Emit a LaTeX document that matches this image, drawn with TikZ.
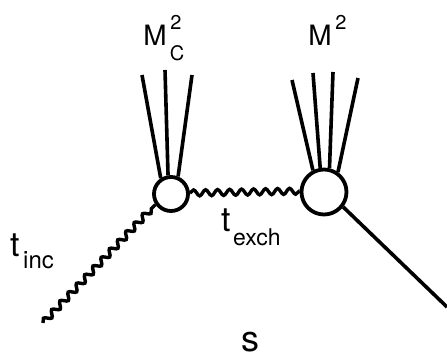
\documentclass[tikz,border=0pt]{standalone}
\usepackage{fontspec}
\setmainfont{TeX Gyre Heros}
\usetikzlibrary{decorations.pathmorphing}
\begin{document}
\begin{tikzpicture}[x=1pt,y=-1pt,
  blob/.style={circle,draw,line width=3.8pt,fill=white,inner sep=0pt},
  leg/.style={line width=3.6pt},
  wavy/.style={line width=3.4pt,decorate,decoration={snake,segment length=12pt,amplitude=3pt}},
  lbl/.style={inner sep=0pt,anchor=center}]
\useasboundingbox (0,0) rectangle (447,358);
% vertices
\node[blob,minimum size=34pt] (L) at (171,194) {};
\node[blob,minimum size=45pt] (R) at (324,192) {};
% left legs
\coordinate (la) at (142,75);
\coordinate (lb) at (165,70);
\coordinate (lc) at (192,75);
\draw[leg] (la) -- (L.123);
\draw[leg] (lb) -- (L.99);
\draw[leg] (lc) -- (L.68);
% right legs
\coordinate (ra) at (292,80);
\coordinate (rb) at (313,73);
\coordinate (rc) at (333,72);
\coordinate (rd) at (358,78);
\draw[leg] (ra) -- (R.117);
\draw[leg] (rb) -- (R.99);
\draw[leg] (rc) -- (R.77);
\draw[leg] (rd) -- (R.55);
% incoming wavy
\coordinate (inc) at (43,323);
\draw[wavy] (inc) -- (L.214);
% exchange wavy
\draw[wavy] (L.3) -- (R.178);
% outgoing straight
\coordinate (out) at (447,307);
\draw[leg] (R.-38) -- (out);
% labels
\node[lbl,font=\fontsize{28}{30}\selectfont] (m1) at (155,35) {M};
\node[lbl,font=\fontsize{20}{22}\selectfont] (m1s) at (176,22) {2};
\node[lbl,font=\fontsize{20}{22}\selectfont] (m1c) at (177,53) {C};
\node[lbl,font=\fontsize{28}{30}\selectfont] (m2) at (320,35) {M};
\node[lbl,font=\fontsize{20}{22}\selectfont] (m2s) at (341,22) {2};
\node[lbl,font=\fontsize{34}{36}\selectfont] (t1) at (15,245) {t};
\node[lbl,font=\fontsize{24}{26}\selectfont,anchor=base west] (t1s) at (23,268) {inc};
\node[lbl,font=\fontsize{34}{36}\selectfont] (t2) at (226,220) {t};
\node[lbl,font=\fontsize{23}{25}\selectfont,anchor=base west] (t2s) at (233,245) {exch};
\node[lbl,font=\fontsize{36}{38}\selectfont] (s) at (250,342) {s};
\end{tikzpicture}
\end{document}
